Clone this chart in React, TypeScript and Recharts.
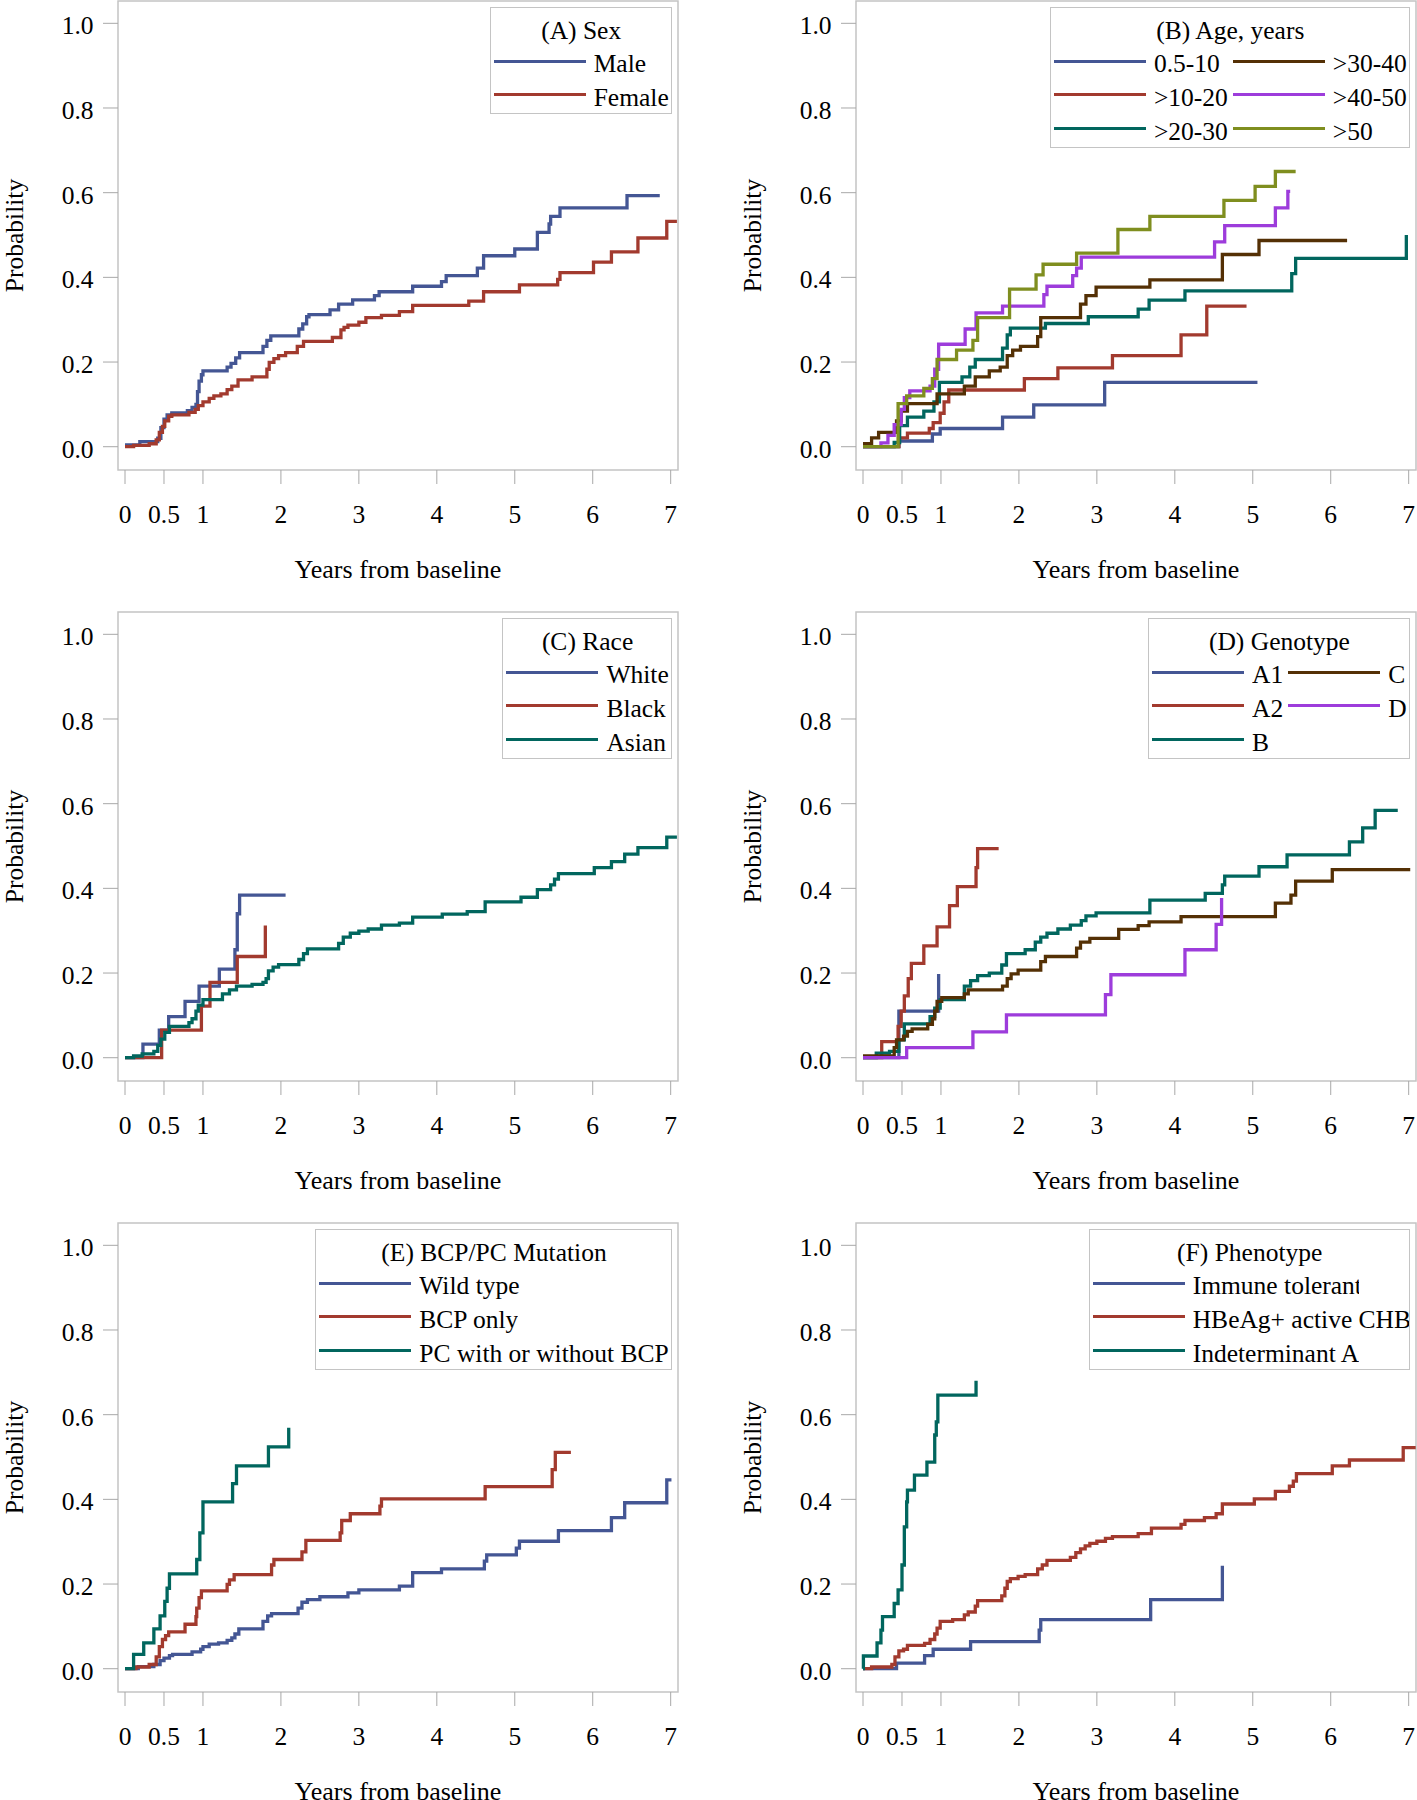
import React from "react";
import { LineChart, Line, XAxis, YAxis, ReferenceArea } from "recharts";

// SAS HTMLBlue group colours
const BLUE = "#445694";
const RED = "#A23A2E";
const TEAL = "#01665E";
const BROWN = "#543005";
const PURPLE = "#9D3CDB";
const OLIVE = "#7F8E1F";

const FONT = '"Liberation Serif", "Times New Roman", serif';
const FRAME = "#c4c4c4";
const TICK = "#a8a8a8";

const xTicks = [0, 0.5, 1, 2, 3, 4, 5, 6, 7];
const yTicks = [0, 0.2, 0.4, 0.6, 0.8, 1.0];
const X_DOMAIN: [number, number] = [-0.09, 7.094];
const Y_DOMAIN: [number, number] = [-0.055, 1.0527];

type Pt = [number, number]; // [years, probability]

// (A) Sex
const male: Pt[] = [[0,0.004],[0.19,0.012],[0.42,0.02],[0.46,0.045],[0.5,0.065],[0.54,0.075],[0.6,0.08],[0.8,0.085],[0.86,0.093],[0.91,0.1],[0.93,0.13],[0.95,0.155],[0.98,0.17],[1.0,0.179],[1.31,0.188],[1.36,0.197],[1.42,0.21],[1.47,0.222],[1.77,0.237],[1.82,0.251],[1.87,0.262],[2.23,0.278],[2.28,0.29],[2.33,0.307],[2.36,0.312],[2.63,0.323],[2.74,0.337],[2.92,0.347],[3.2,0.357],[3.26,0.366],[3.69,0.379],[4.06,0.39],[4.12,0.404],[4.52,0.422],[4.6,0.451],[5.0,0.467],[5.29,0.506],[5.44,0.526],[5.46,0.544],[5.58,0.564],[6.44,0.593],[6.86,0.593]];
const female: Pt[] = [[0,0],[0.11,0.003],[0.31,0.007],[0.4,0.016],[0.44,0.034],[0.48,0.048],[0.51,0.061],[0.56,0.072],[0.6,0.075],[0.82,0.081],[0.9,0.088],[0.94,0.097],[1.0,0.106],[1.08,0.114],[1.14,0.12],[1.23,0.125],[1.31,0.135],[1.37,0.143],[1.45,0.158],[1.63,0.165],[1.82,0.183],[1.85,0.199],[1.91,0.208],[1.97,0.215],[2.06,0.222],[2.21,0.237],[2.29,0.249],[2.66,0.258],[2.77,0.276],[2.81,0.282],[2.86,0.287],[3.0,0.294],[3.09,0.305],[3.29,0.31],[3.52,0.319],[3.69,0.334],[4.41,0.344],[4.6,0.366],[5.06,0.382],[5.55,0.395],[5.58,0.411],[6.01,0.436],[6.24,0.46],[6.58,0.493],[6.95,0.532],[7.08,0.532]];

// (B) Age, years
const age0510: Pt[] = [[0,0],[0.46,0.0135],[0.89,0.03],[0.99,0.043],[1.79,0.07],[2.19,0.099],[3.1,0.152],[5.06,0.152]];
const age1020: Pt[] = [[0,0],[0.46,0.021],[0.57,0.032],[0.85,0.043],[0.9,0.057],[0.99,0.079],[1.04,0.106],[1.1,0.134],[2.07,0.161],[2.5,0.186],[3.2,0.215],[4.08,0.264],[4.41,0.332],[4.92,0.332]];
const age2030: Pt[] = [[0,0],[0.4,0.01],[0.47,0.05],[0.57,0.07],[0.78,0.084],[0.91,0.106],[0.98,0.152],[1.27,0.165],[1.37,0.188],[1.44,0.206],[1.79,0.233],[1.85,0.264],[1.89,0.28],[2.34,0.291],[2.89,0.307],[3.53,0.325],[3.67,0.346],[4.13,0.368],[5.5,0.409],[5.55,0.445],[6.97,0.5]];
const age3040: Pt[] = [[0,0.007],[0.11,0.021],[0.2,0.034],[0.43,0.061],[0.49,0.084],[0.57,0.102],[0.95,0.125],[1.3,0.143],[1.44,0.165],[1.62,0.179],[1.76,0.188],[1.85,0.215],[1.92,0.228],[2.02,0.237],[2.24,0.26],[2.28,0.305],[2.79,0.337],[2.86,0.357],[2.99,0.377],[3.68,0.394],[4.61,0.454],[5.08,0.487],[6.21,0.487]];
const age4050: Pt[] = [[0,0],[0.23,0.009],[0.32,0.027],[0.4,0.052],[0.49,0.088],[0.53,0.116],[0.6,0.132],[0.86,0.143],[0.92,0.183],[0.97,0.242],[1.31,0.278],[1.45,0.316],[1.79,0.332],[2.32,0.359],[2.36,0.379],[2.69,0.404],[2.74,0.422],[2.8,0.448],[4.51,0.484],[4.64,0.522],[5.29,0.564],[5.45,0.603],[5.48,0.603]];
const age50: Pt[] = [[0,0],[0.45,0.102],[0.56,0.12],[0.78,0.138],[0.89,0.161],[0.95,0.206],[1.2,0.228],[1.41,0.251],[1.47,0.305],[1.88,0.372],[2.22,0.406],[2.31,0.431],[2.74,0.457],[3.27,0.513],[3.68,0.544],[4.63,0.582],[5.03,0.615],[5.29,0.65],[5.55,0.65]];

// (C) Race
const white: Pt[] = [[0,0],[0.23,0.032],[0.44,0.065],[0.56,0.097],[0.77,0.133],[0.95,0.169],[1.21,0.209],[1.41,0.255],[1.44,0.34],[1.47,0.384],[2.06,0.384]];
const black: Pt[] = [[0,0],[0.47,0.065],[0.98,0.122],[1.09,0.178],[1.44,0.239],[1.8,0.312]];
const asian: Pt[] = [[0,0],[0.11,0.004],[0.22,0.009],[0.37,0.015],[0.42,0.029],[0.46,0.044],[0.51,0.06],[0.57,0.074],[0.82,0.083],[0.86,0.092],[0.91,0.11],[0.94,0.124],[1.0,0.137],[1.25,0.151],[1.34,0.16],[1.43,0.169],[1.63,0.173],[1.77,0.178],[1.81,0.187],[1.84,0.205],[1.9,0.214],[1.97,0.22],[2.23,0.232],[2.29,0.246],[2.34,0.257],[2.74,0.27],[2.8,0.285],[2.89,0.294],[3.0,0.299],[3.12,0.304],[3.29,0.313],[3.52,0.318],[3.69,0.332],[4.07,0.339],[4.39,0.345],[4.62,0.368],[5.08,0.379],[5.29,0.397],[5.46,0.408],[5.51,0.422],[5.56,0.435],[6.02,0.449],[6.24,0.463],[6.41,0.481],[6.58,0.496],[6.95,0.521],[7.08,0.521]];

// (D) Genotype
const genoA1: Pt[] = [[0,0],[0.46,0.11],[0.97,0.198]];
const genoA2: Pt[] = [[0,0],[0.24,0.038],[0.45,0.074],[0.49,0.11],[0.53,0.146],[0.58,0.187],[0.62,0.223],[0.78,0.264],[0.95,0.309],[1.11,0.359],[1.21,0.404],[1.45,0.449],[1.47,0.494],[1.74,0.494]];
const genoB: Pt[] = [[0,0],[0.17,0.011],[0.34,0.015],[0.46,0.042],[0.53,0.08],[0.86,0.097],[0.92,0.117],[0.99,0.137],[1.3,0.169],[1.38,0.182],[1.47,0.194],[1.62,0.2],[1.78,0.219],[1.84,0.246],[2.08,0.255],[2.21,0.273],[2.28,0.285],[2.36,0.294],[2.5,0.304],[2.66,0.313],[2.8,0.324],[2.86,0.335],[2.99,0.342],[3.68,0.372],[4.39,0.388],[4.61,0.408],[4.64,0.429],[5.08,0.451],[5.44,0.479],[6.24,0.51],[6.41,0.543],[6.57,0.584],[6.86,0.584]];
const genoC: Pt[] = [[0,0.004],[0.4,0.024],[0.43,0.042],[0.52,0.051],[0.57,0.062],[0.63,0.068],[0.83,0.079],[0.89,0.092],[0.92,0.11],[0.95,0.133],[1.01,0.142],[1.3,0.151],[1.35,0.16],[1.79,0.169],[1.85,0.187],[1.9,0.198],[1.99,0.207],[2.28,0.227],[2.34,0.239],[2.74,0.259],[2.79,0.273],[2.91,0.282],[3.28,0.303],[3.53,0.312],[3.67,0.321],[4.08,0.333],[5.29,0.365],[5.49,0.384],[5.55,0.417],[6.02,0.444],[7.02,0.444]];
const genoD: Pt[] = [[0,0],[0.56,0.024],[1.41,0.061],[1.84,0.101],[3.11,0.149],[3.18,0.196],[4.13,0.255],[4.53,0.315],[4.6,0.377]];

// (E) BCP/PC Mutation
const wildType: Pt[] = [[0,0],[0.17,0.005],[0.37,0.01],[0.45,0.019],[0.5,0.025],[0.57,0.031],[0.61,0.034],[0.86,0.04],[0.97,0.046],[1.0,0.052],[1.08,0.058],[1.2,0.061],[1.31,0.067],[1.37,0.073],[1.41,0.082],[1.46,0.094],[1.77,0.112],[1.83,0.125],[1.88,0.13],[2.22,0.143],[2.27,0.157],[2.34,0.163],[2.5,0.17],[2.86,0.179],[3.0,0.186],[3.52,0.195],[3.69,0.227],[4.06,0.236],[4.61,0.254],[4.64,0.269],[5.02,0.285],[5.06,0.301],[5.56,0.326],[6.24,0.357],[6.41,0.392],[6.95,0.446],[7.01,0.446]];
const bcpOnly: Pt[] = [[0,0],[0.14,0.004],[0.31,0.01],[0.4,0.028],[0.44,0.052],[0.48,0.069],[0.52,0.078],[0.56,0.087],[0.77,0.105],[0.91,0.123],[0.92,0.143],[0.95,0.168],[0.98,0.184],[1.31,0.199],[1.34,0.21],[1.4,0.222],[1.88,0.245],[1.91,0.258],[2.27,0.276],[2.32,0.303],[2.76,0.321],[2.78,0.35],[2.89,0.366],[3.27,0.384],[3.29,0.401],[4.62,0.43],[5.48,0.47],[5.52,0.511],[5.72,0.511]];
const pcMut: Pt[] = [[0,0],[0.11,0.034],[0.24,0.061],[0.37,0.094],[0.45,0.125],[0.51,0.159],[0.54,0.19],[0.57,0.224],[0.92,0.258],[0.96,0.321],[1.0,0.394],[1.38,0.437],[1.43,0.479],[1.84,0.524],[2.1,0.569]];

// (F) Phenotype
const immuneTol: Pt[] = [[0,0],[0.43,0.013],[0.79,0.031],[0.9,0.046],[1.38,0.064],[2.26,0.091],[2.28,0.116],[3.69,0.163],[4.61,0.243]];
const hbeagActive: Pt[] = [[0,0],[0.11,0.004],[0.37,0.01],[0.41,0.028],[0.46,0.042],[0.52,0.046],[0.57,0.055],[0.79,0.06],[0.86,0.069],[0.92,0.082],[0.95,0.096],[0.99,0.112],[1.15,0.116],[1.3,0.127],[1.35,0.134],[1.44,0.148],[1.47,0.161],[1.78,0.172],[1.82,0.19],[1.85,0.206],[1.89,0.213],[1.99,0.218],[2.08,0.222],[2.24,0.236],[2.3,0.245],[2.36,0.256],[2.66,0.263],[2.73,0.274],[2.79,0.283],[2.85,0.29],[2.91,0.296],[3.0,0.301],[3.11,0.308],[3.2,0.312],[3.53,0.319],[3.7,0.332],[4.08,0.341],[4.13,0.35],[4.38,0.357],[4.53,0.366],[4.61,0.389],[5.02,0.401],[5.29,0.419],[5.47,0.431],[5.52,0.443],[5.56,0.461],[6.02,0.479],[6.24,0.493],[6.93,0.522],[7.09,0.522]];
const indeterminant: Pt[] = [[0,0],[0.005,0.03],[0.18,0.061],[0.23,0.091],[0.25,0.123],[0.4,0.154],[0.45,0.186],[0.5,0.245],[0.53,0.335],[0.56,0.394],[0.57,0.422],[0.66,0.457],[0.82,0.488],[0.92,0.552],[0.94,0.583],[0.96,0.646],[1.45,0.68]];

type Series = { name: string; color: string; points: Pt[]; clip?: number };
type PanelDef = { title: string; rows: number; width?: number; series: Series[] };

const panels: PanelDef[] = [
  {
    title: "(A) Sex",
    rows: 2,
    series: [
      { name: "Male", color: BLUE, points: male },
      { name: "Female", color: RED, points: female },
    ],
  },
  {
    title: "(B) Age, years",
    rows: 3,
    series: [
      { name: "0.5-10", color: BLUE, points: age0510 },
      { name: ">10-20", color: RED, points: age1020 },
      { name: ">20-30", color: TEAL, points: age2030 },
      { name: ">30-40", color: BROWN, points: age3040 },
      { name: ">40-50", color: PURPLE, points: age4050 },
      { name: ">50", color: OLIVE, points: age50 },
    ],
  },
  {
    title: "(C) Race",
    rows: 3,
    series: [
      { name: "White", color: BLUE, points: white },
      { name: "Black", color: RED, points: black },
      { name: "Asian", color: TEAL, points: asian },
    ],
  },
  {
    title: "(D) Genotype",
    rows: 3,
    series: [
      { name: "A1", color: BLUE, points: genoA1 },
      { name: "A2", color: RED, points: genoA2 },
      { name: "B", color: TEAL, points: genoB },
      { name: "C", color: BROWN, points: genoC },
      { name: "D", color: PURPLE, points: genoD },
    ],
  },
  {
    title: "(E) BCP/PC Mutation",
    rows: 3,
    series: [
      { name: "Wild type", color: BLUE, points: wildType },
      { name: "BCP only", color: RED, points: bcpOnly },
      { name: "PC with or without BCP", color: TEAL, points: pcMut },
    ],
  },
  {
    title: "(F) Phenotype",
    rows: 3,
    width: 321,
    series: [
      { name: "Immune tolerant", color: BLUE, points: immuneTol, clip: 166 },
      { name: "HBeAg+ active CHB", color: RED, points: hbeagActive },
      { name: "Indeterminant A", color: TEAL, points: indeterminant, clip: 166 },
    ],
  },
];

const CELL_W = 738;
const CELL_H = 611;

function LegendBox({ def }: { def: PanelDef }) {
  return (
    <div
      style={{
        position: "absolute",
        top: 7.3,
        right: 66.3,
        width: def.width,
        boxSizing: "border-box",
        border: `1px solid ${FRAME}`,
        background: "#fff",
        padding: "11px 2px 1px 3px",
        fontFamily: FONT,
        fontSize: 25.5,
        color: "#000",
        overflow: "hidden",
      }}
    >
      <div style={{ textAlign: "center", height: 25, lineHeight: "23px", whiteSpace: "nowrap" }}>
        {def.title}
      </div>
      <div
        style={{
          display: "grid",
          gridAutoFlow: "column",
          gridTemplateRows: `repeat(${def.rows}, 33.8px)`,
          columnGap: 5,
          justifyContent: "start",
        }}
      >
        {def.series.map((s) => (
          <div key={s.name} style={{ display: "flex", alignItems: "center", whiteSpace: "nowrap" }}>
            <span
              style={{
                display: "block",
                width: 92,
                height: 3,
                background: s.color,
                marginRight: 8,
                flex: "none",
              }}
            />
            <span
              style={{
                lineHeight: "33.8px",
                overflow: "hidden",
                maxWidth: s.clip,
                position: "relative",
                top: 3,
              }}
            >
              {s.name}
            </span>
          </div>
        ))}
      </div>
    </div>
  );
}

function Panel({ def, left, top }: { def: PanelDef; left: number; top: number }) {
  return (
    <div style={{ position: "absolute", left, top, width: CELL_W, height: CELL_H }}>
      <LineChart width={CELL_W} height={CELL_H} margin={{ top: 1, right: 60, bottom: 0, left: 0 }}>
        <XAxis
          type="number"
          dataKey="t"
          domain={X_DOMAIN}
          ticks={xTicks}
          interval={0}
          allowDataOverflow
          axisLine={false}
          tickLine={{ stroke: TICK }}
          tickSize={14}
          tickMargin={21}
          height={141}
          tick={{ fill: "#000", fontSize: 25.5, fontFamily: FONT }}
          label={{
            value: "Years from baseline",
            position: "insideBottom",
            offset: 33,
            fill: "#000",
            fontSize: 26,
            fontFamily: FONT,
          }}
        />
        <YAxis
          type="number"
          dataKey="p"
          domain={Y_DOMAIN}
          ticks={yTicks}
          interval={0}
          allowDataOverflow
          axisLine={false}
          tickLine={{ stroke: TICK }}
          tickSize={15}
          tickMargin={9.5}
          width={118}
          tickFormatter={(v: number) => v.toFixed(1)}
          tick={{ fill: "#000", fontSize: 25.5, fontFamily: FONT, dy: 2 }}
          label={{
            value: "Probability",
            angle: -90,
            position: "insideLeft",
            offset: 14,
            fill: "#000",
            fontSize: 25.5,
            fontFamily: FONT,
            style: { textAnchor: "middle" },
          }}
        />
        <ReferenceArea
          x1={X_DOMAIN[0]}
          x2={X_DOMAIN[1]}
          y1={Y_DOMAIN[0]}
          y2={Y_DOMAIN[1]}
          fill="none"
          stroke={FRAME}
          strokeWidth={1.5}
          ifOverflow="visible"
        />
        {def.series.map((s) => (
          <Line
            key={s.name}
            data={s.points.map(([t, p]) => ({ t, p }))}
            dataKey="p"
            type="stepAfter"
            stroke={s.color}
            strokeWidth={3.3}
            dot={false}
            activeDot={false}
            isAnimationActive={false}
          />
        ))}
      </LineChart>
      <LegendBox def={def} />
    </div>
  );
}

export default function App() {
  return (
    <div
      style={{
        position: "absolute",
        left: 0,
        top: 0,
        width: 1417,
        height: 1800,
        overflow: "hidden",
        background: "#fff",
      }}
    >
      {panels.map((def, i) => (
        <Panel key={def.title} def={def} left={(i % 2) * CELL_W} top={Math.floor(i / 2) * CELL_H} />
      ))}
    </div>
  );
}
